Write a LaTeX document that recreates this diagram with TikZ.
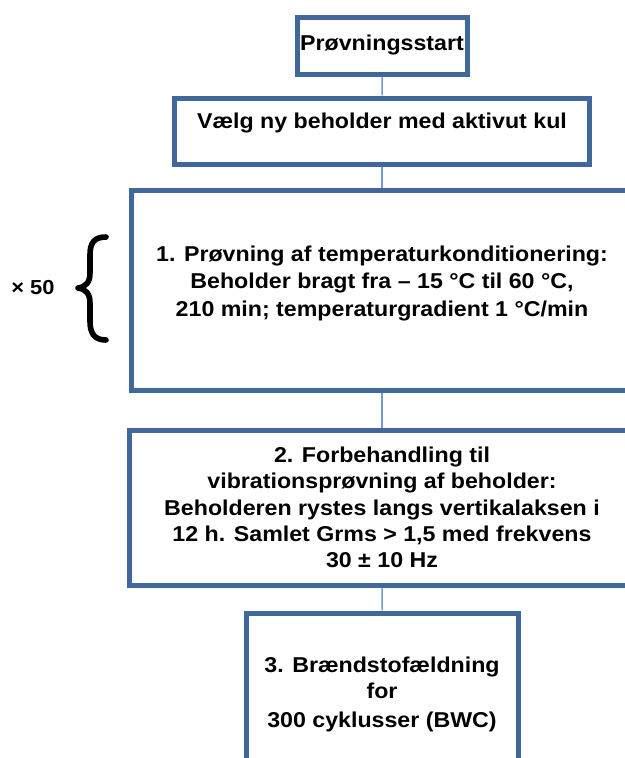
\documentclass[tikz,border=0pt]{standalone}
\usepackage{fontspec}
\setmainfont{Liberation Sans}[FakeStretch=1.08]
\definecolor{boxblue}{HTML}{41689B}
\definecolor{linkblue}{HTML}{6F9BD1}
\begin{document}
\begin{tikzpicture}[x=0.75pt,y=-0.75pt,
  box/.style={draw=boxblue,line width=3.75pt,fill=white,rectangle,inner sep=0pt},
  link/.style={draw=linkblue,line width=1.1pt},
  txt/.style={inner sep=0pt,anchor=base,font=\fontsize{16.1pt}{19pt}\selectfont\bfseries},
  reptxt/.style={inner sep=0pt,anchor=base west,font=\fontsize{15.2pt}{18pt}\selectfont\bfseries}]
\useasboundingbox (0,0) rectangle (625,758);
\clip (0,0) rectangle (625,758);
\fill[white] (0,0) rectangle (625,758);
% boxes
\node[box,minimum width=170.5*0.75pt,minimum height=56.5*0.75pt] (b1) at (382.25,45.75) {};
\node[box,minimum width=415*0.75pt,minimum height=66*0.75pt] (b2) at (382,131) {};
\node[box,minimum width=502*0.75pt,minimum height=199.5*0.75pt] (b3) at (382,290.25) {};
\node[box,minimum width=505*0.75pt,minimum height=154.5*0.75pt] (b4) at (382,507.75) {};
\node[box,minimum width=272.5*0.75pt,minimum height=187*0.75pt] (b5) at (382.25,706.5) {};
% connectors
\draw[link] (b1.south) -- (b2.north);
\draw[link] (b2.south) -- (b3.north);
\draw[link] (b3.south) -- (b4.north);
\draw[link] (b4.south) -- (b5.north);
% texts
\node[txt] (t1) at (382,50) {Prøvningsstart};
\node[txt] (t2) at (382,128) {Vælg ny beholder med aktivut kul};
\node[txt] (t3a) at (382,261) {1. Prøvning af temperaturkonditionering:};
\node[txt] (t3b) at (382,288) {Beholder bragt fra – 15 °C til 60 °C,};
\node[txt] (t3c) at (382,316) {210 min; temperaturgradient 1 °C/min};
\node[txt] (t4a) at (382,462) {2. Forbehandling til};
\node[txt] (t4b) at (382,488) {vibrationsprøvning af beholder:};
\node[txt] (t4c) at (382,515) {Beholderen rystes langs vertikalaksen i};
\node[txt] (t4d) at (382,541) {12 h. Samlet Grms > 1,5 med frekvens};
\node[txt] (t4e) at (382,567) {30 ± 10 Hz};
\node[txt] (t5a) at (382,672) {3. Brændstofældning};
\node[txt] (t5b) at (382,698) {for};
\node[txt] (t5c) at (382,727) {300 cyklusser (BWC)};
% repetition brace
\node[reptxt] (rep) at (11,294) {× 50};
\draw[line width=4.2pt,line cap=round,line join=round,black]
  (106,237) .. controls (94,237) and (90,243) .. (90,255) -- (90,273)
  .. controls (90,282) and (86,287) .. (78,288)
  .. controls (86,289) and (90,294) .. (90,303) -- (90,321)
  .. controls (90,333) and (94,340) .. (106,340);
\end{tikzpicture}
\end{document}
